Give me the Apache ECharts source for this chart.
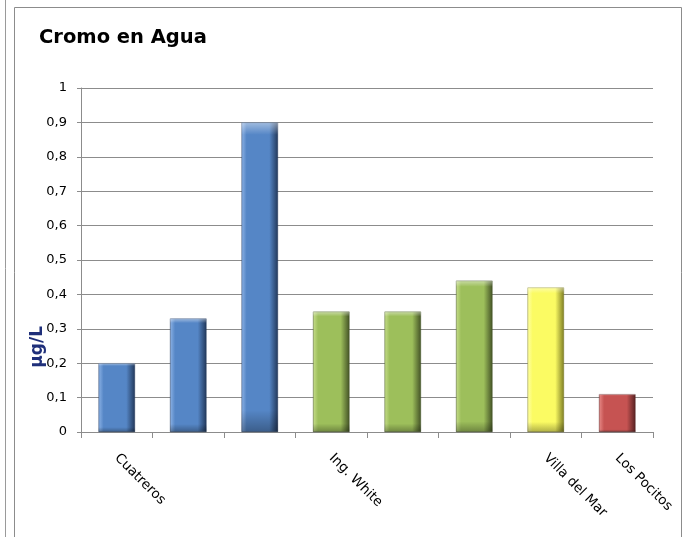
<!DOCTYPE html>
<html>
<head>
<meta charset="utf-8">
<script src="https://cdn.jsdelivr.net/npm/echarts@6/dist/echarts.min.js"></script>
<style>
  html, body { margin:0; padding:0; background:#fff; }
  #chart { width:691px; height:537px; }
</style>
</head>
<body>
<div id="chart"></div>
<script>
// datos
const categories = ['Cuatreros', '', '', 'Ing. White', '', '', 'Villa del Mar', 'Los Pocitos'];
const values = [0.2, 0.33, 0.9, 0.35, 0.35, 0.44, 0.42, 0.11];
const barColors = ['blue', 'blue', 'blue', 'green', 'green', 'green', 'yellow', 'red'];
const yTicks = [0, 0.1, 0.2, 0.3, 0.4, 0.5, 0.6, 0.7, 0.8, 0.9, 1];

const palette = {
    blue:   { light:'#8db3e6', base:'#5586c6', dark:'#22385a' },
    green:  { light:'#c6dd8a', base:'#9dbf5b', dark:'#435226' },
    yellow: { light:'#ffffa8', base:'#fbfb63', dark:'#7d7d24' },
    red:    { light:'#e88a88', base:'#c65352', dark:'#572222' }
};

function barFill(key){
    let p = palette[key];
    return new echarts.graphic.LinearGradient(0, 0, 1, 0, [
        { offset:0, color:p.light },
        { offset:0.14, color:p.base },
        { offset:0.76, color:p.base },
        { offset:1, color:p.dark }
    ]);
}

// capa de bisel superior / inferior
const bevel = new echarts.graphic.LinearGradient(0, 0, 0, 1, [
    { offset:0, color:'rgba(255,255,255,0.45)' },
    { offset:0.04, color:'rgba(255,255,255,0.0)' },
    { offset:0.93, color:'rgba(0,0,0,0.0)' },
    { offset:1, color:'rgba(0,0,0,0.3)' }
]);

const myChart = echarts.init(document.getElementById('chart'), null, { renderer:'canvas' });
const font = 'DejaVu Sans, Verdana, sans-serif';

let option = {
    animation:false,
    textStyle:{ fontFamily:font },
    title:{
        text:'Cromo en Agua',
        left:34,
        top:23,
        textStyle:{ fontFamily:font, fontSize:19.5, fontWeight:'bold', color:'#000' }
    },
    graphic:[
        { type:'line', shape:{ x1:5.5, y1:0, x2:5.5, y2:537 }, style:{ stroke:'#9a9a9a', lineWidth:1 } },
        { type:'rect', shape:{ x:14.5, y:7.5, width:667, height:540 }, style:{ fill:'none', stroke:'#8c8c8c', lineWidth:1 } },
        {
            type:'text',
            left:29,
            top:326,
            rotation:Math.PI / 2,
            style:{ text:'µg/L', font:'bold 17px ' + font, fill:'#1f2f7a' }
        }
    ],
    grid:{
        left:81,
        right:38,
        top:88,
        bottom:105,
        containLabel:false
    },
    xAxis:{
        type:'category',
        data:categories,
        axisLine:{ lineStyle:{ color:'#8c8c8c' } },
        axisTick:{ show:true, length:6, interval:0, lineStyle:{ color:'#8c8c8c' } },
        axisLabel:{
            interval:0,
            rotate:-45,
            margin:24,
            color:'#000',
            fontFamily:font,
            fontSize:13.5
        }
    },
    yAxis:{
        type:'value',
        min:0,
        max:1,
        interval:0.1,
        axisLine:{ show:true, lineStyle:{ color:'#8c8c8c' } },
        axisTick:{ show:true, length:4, lineStyle:{ color:'#8c8c8c' } },
        splitLine:{ lineStyle:{ color:'#8c8c8c' } },
        axisLabel:{
            margin:14,
            color:'#000',
            fontFamily:font,
            fontSize:13,
            formatter:(v)=>{
                let t = yTicks.find(x=>Math.abs(x - v) < 1e-6);
                return String(t !== undefined ? t : v).replace('.', ',');
            }
        }
    },
    series:[{
        type:'bar',
        barWidth:'51%',
        data:values.map((v, i)=>({
            value:v,
            itemStyle:{ color:barFill(barColors[i]), borderColor:palette[barColors[i]].dark, borderWidth:0.5 }
        }))
    }, {
        type:'bar',
        barWidth:'51%',
        barGap:'-100%',
        silent:true,
        data:values,
        itemStyle:{ color:bevel }
    }]
};
myChart.setOption(option);
</script>
</body>
</html>
